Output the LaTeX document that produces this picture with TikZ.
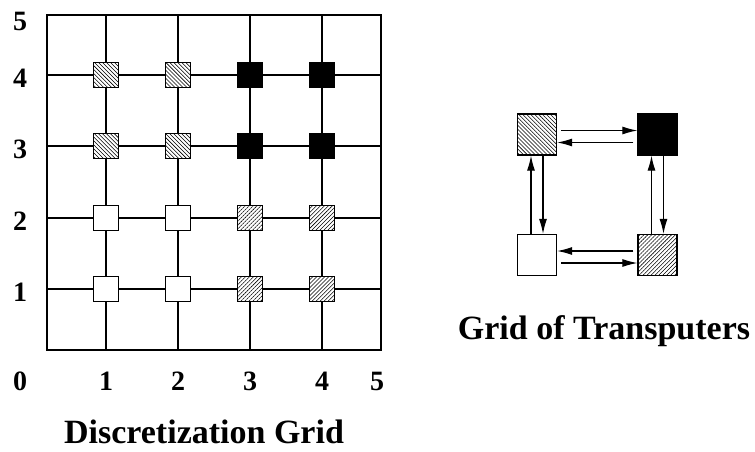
\documentclass[tikz,border=0pt]{standalone}
\usepackage{fontspec}
\setmainfont{Liberation Serif}
\usetikzlibrary{arrows.meta, patterns.meta}

\tikzset{
  grid line/.style={line width=1.3pt},
  cell/.style={draw, line width=1.3pt, minimum size=25pt, inner sep=0pt, fill=white},
  proc/.style={draw, line width=1.3pt, minimum width=39pt, minimum height=41pt, inner sep=0pt, fill=white},
  hatch left/.style={preaction={fill=white}, pattern={Lines[angle=-45, distance=2.8pt, line width=0.55pt]}},
  hatch right/.style={preaction={fill=white}, pattern={Lines[angle=45, distance=2.8pt, line width=0.55pt]}},
  num/.style={font=\fontsize{28}{32}\selectfont\bfseries},
  title/.style={font=\fontsize{34}{40}\selectfont\bfseries, anchor=base, inner sep=0pt},
  msg/.style={-{Latex[length=15pt, width=8pt]}, line width=1.1pt}
}

\begin{document}
\begin{tikzpicture}[x=1pt, y=-1pt]
\useasboundingbox (0,0) rectangle (755,451);
% Draw frame and lines of the grid
\draw[grid line] (47,15) rectangle (381,350);
\foreach \i/\x/\y in {1/106/289, 2/178/218, 3/250/146, 4/322/75} {
  \draw[grid line] (\x,15) -- (\x,350);
  \draw[grid line] (47,\y) -- (381,\y);
  % Draw axis numbers
  \node[num] (xn\i) at (\x,381) {\i};
  \node[num] (yn\i) at (20,\y+3) {\i};
}
\node[num] (origin) at (20,381) {0};
\node[num] (xn5) at (377,381) {5};
\node[num] (yn5) at (20,21) {5};
% Draw grid points
\foreach \x in {106,178} \foreach \y in {289,218}
  \node[cell] (p\x-\y) at (\x,\y) {};
\foreach \x in {250,322} \foreach \y in {289,218}
  \node[cell, hatch right] (p\x-\y) at (\x,\y) {};
\foreach \x in {106,178} \foreach \y in {146,75}
  \node[cell, hatch left] (p\x-\y) at (\x,\y) {};
\foreach \x in {250,322} \foreach \y in {146,75}
  \node[cell, fill=black] (p\x-\y) at (\x,\y) {};
\node[title] (gridtitle) at (204,443) {Discretization Grid};
% Draw transputers
\node[proc, hatch left] (tl) at (537,134.5) {};
\node[proc, fill=black] (tr) at (657.5,134.5) {};
\node[proc] (bl) at (537,255) {};
\node[proc, hatch right] (br) at (657.5,255) {};
% Draw links between transputers
\draw[msg, shorten <=4pt] ([yshift=4pt]tl.east) -- ([yshift=4pt]tr.west);
\draw[msg, shorten <=4pt] ([yshift=-8pt]tr.west) -- ([yshift=-8pt]tl.east);
\draw[msg, shorten <=4pt] ([yshift=4pt]br.west) -- ([yshift=4pt]bl.east);
\draw[msg, shorten <=4pt] ([yshift=-8pt]bl.east) -- ([yshift=-8pt]br.west);
\draw[msg] ([xshift=-6pt]bl.north) -- ([xshift=-6pt]tl.south);
\draw[msg] ([xshift=6pt]tl.south) -- ([xshift=6pt]bl.north);
\draw[msg] ([xshift=-6pt]br.north) -- ([xshift=-6pt]tr.south);
\draw[msg] ([xshift=6pt]tr.south) -- ([xshift=6pt]br.north);
\node[title] (proctitle) at (604,339) {Grid of Transputers};
\end{tikzpicture}
\end{document}
